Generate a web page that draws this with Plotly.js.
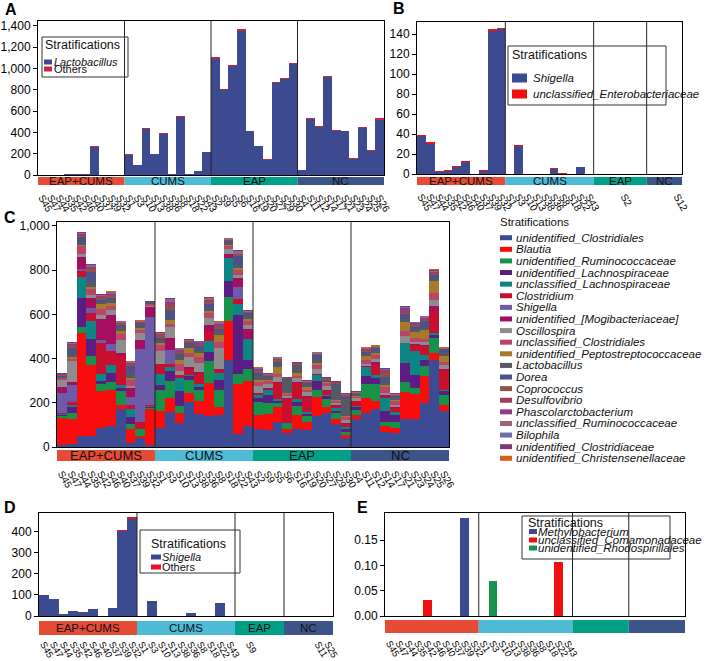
<!DOCTYPE html>
<html><head><meta charset="utf-8">
<script src="https://cdn.plot.ly/plotly-3.0.1.min.js"></script>
<style>html,body{margin:0;padding:0;background:#fff}#chart{width:709px;height:661px}</style>
</head><body><div id="chart"></div>
<script>
// ---------------- DATA ----------------
const groupNames = ['EAP+CUMS','CUMS','EAP','NC'];
const groupColors = ['#E64B35','#4DBBD5','#00A087','#3C5488'];

const eapCumsSamples = ['S45','S47','S44','S35','S42','S46','S40','S37','S39','S32'];
const cumsSamples = ['S1','S3','S10','S13','S38','S36','S8','S18','S22','S43'];
const eapSamples = ['S2','S9','S5','S6','S16','S19','S20','S27','S29','S30'];
const ncSamples = ['S4','S11','S12','S14','S17','S21','S23','S24','S25','S26'];

// Panel A
const samplesA = [...eapCumsSamples, ...cumsSamples, ...eapSamples, ...ncSamples];
const countsA = [10,10,10,10];
const labelsA = samplesA;
const seriesNamesA = ['Lactobacillus','Others'];
const lactobacillusA = [1,1,2,8,8,6,262,3,3,3, 188,91,436,197,387,10,542,6,35,216, 1088,795,1021,1354,410,270,144,867,901,1038, 44,521,451,920,414,411,153,442,229,519];
const othersA = [1,1,1,3,3,3,8,1,1,1, 6,3,8,3,7,2,8,2,2,3, 15,8,10,18,6,5,3,8,8,12, 3,10,5,8,5,5,3,8,5,12];

// Panel B
const samplesB = [...eapCumsSamples, ...cumsSamples, 'S5','S6','S16','S2','S19','S20', 'S7','S14','S17','S12'];
const countsB = [10,10,6,4];
const labelsB = [...eapCumsSamples, ...cumsSamples, 'S2', 'S12'];
const seriesNamesB = ['Shigella','unclassified_Enterobacteriaceae'];
const shigellaB = [38,30.5,2.5,3.5,7.5,12.5,0.3,3.5,143.3,145, 0,28.5,0.2,0.2,0.2,5.5,0.5,0,6.8,0, 0.2,0.2,0.3,0.5,0.3,0.2, 0.2,0.2,0.3,0.5];
const enterobacteriaceaeB = [0.8,1.5,0.2,0.2,0.8,0.3,0,0.2,2,1.3, 0,0.2,0,0,0,0.3,0.2,0,0.3,0, 0,0,0,0,0,0, 0,0,0,0];

// Panel C
const samplesC = samplesA;
const countsC = [10,10,10,10];
const taxaC = ['unidentified_Clostridiales','Blautia','unidentified_Ruminococcaceae','unidentified_Lachnospiraceae','unclassified_Lachnospiraceae','Clostridium','Shigella','unidentified_[Mogibacteriaceae]','Oscillospira','unclassified_Clostridiales','unidentified_Peptostreptococcaceae','Lactobacillus','Dorea','Coprococcus','Desulfovibrio','Phascolarctobacterium','unclassified_Ruminococcaceae','Bilophila','unidentified_Clostridiaceae','unidentified_Christensenellaceae'];
const unidClostridiales = [10,15,50,50,85,95,170,20,40,10, 85,160,110,205,150,140,145,395,60,95, 80,75,115,65,80,75,140,155,105,40, 125,155,170,70,65,125,125,200,395,165];
const blautia = [120,110,465,320,170,165,20,60,10,160, 80,60,45,40,60,150,35,175,225,205, 65,75,65,15,65,40,85,25,20,15, 22,65,40,25,22,125,115,120,30,25];
const unidRuminococcaceae = [12,30,30,40,30,35,65,25,30,5, 95,80,30,60,50,100,80,110,45,55, 60,50,20,25,40,25,35,35,30,15, 20,65,75,20,25,45,25,45,70,45];
const unidLachnospiraceae = [5,25,130,80,15,40,10,30,0,5, 20,45,70,15,10,40,45,70,265,40, 15,35,10,0,20,10,40,15,10,10, 15,35,25,50,35,85,60,30,10,20];
const unclLachnospiraceae = [3,10,95,80,30,35,15,35,0,5, 50,15,55,5,15,50,30,105,50,95, 15,25,5,5,10,10,25,5,10,10, 5,40,15,55,10,90,110,20,10,5];
const clostridium = [5,15,25,35,140,65,130,20,35,5, 45,15,15,30,45,45,15,0,25,0, 5,0,75,105,75,65,0,20,10,15, 20,0,45,5,20,0,25,40,100,90];
const shigellaC = [90,75,10,25,15,30,0,35,330,400, 0,65,0,0,0,0,0,0,55,0, 0,0,0,0,0,0,0,0,0,0, 0,0,0,0,0,0,0,0,0,0];
const mogibacteriaceae = [25,15,55,45,95,130,15,40,40,45, 0,55,0,5,10,25,5,20,40,45, 5,5,5,5,5,5,5,5,3,5, 3,5,15,10,5,0,5,5,25,5];
const oscillospira = [35,95,15,15,15,25,60,10,30,5, 60,50,20,45,40,35,95,20,15,15, 30,20,20,10,15,20,25,15,10,10, 10,10,15,10,10,30,10,15,25,15];
const unclClostridiales = [8,10,35,25,30,20,25,30,15,5, 25,10,30,20,25,20,25,15,20,20, 20,15,15,8,10,10,15,15,10,15, 8,20,15,25,15,25,20,15,30,15];
const peptostreptococcaceae = [0,5,5,10,20,10,15,5,10,3, 10,20,20,25,20,10,30,5,10,10, 10,5,30,5,15,10,10,5,3,5, 3,15,10,10,5,40,25,40,55,25];
const lactobacillusC = [5,15,10,20,10,10,15,25,10,3, 10,5,10,10,15,10,15,10,10,10, 15,10,10,60,30,10,20,5,70,75, 5,10,15,10,10,15,10,10,10,15];
const dorea = [5,30,25,47,10,15,10,30,10,3, 15,40,15,10,15,23,15,5,45,15, 15,8,15,5,8,8,15,5,5,10, 5,10,8,25,8,20,15,30,20,18];
const coprococcus = [2,5,5,8,8,8,5,5,3,0, 10,15,10,5,8,8,10,3,5,5, 8,3,8,2,3,4,5,3,3,5, 3,5,3,22,4,5,5,5,5,0];
const desulfovibrio = [2,5,5,8,6,5,5,5,3,0, 5,10,6,3,5,6,8,2,3,2, 5,2,5,0,2,3,3,2,3,4, 2,5,2,5,3,12,5,5,3,0];
const phascolarctobacterium = [3,5,5,6,4,5,3,3,0,0, 3,10,5,2,5,5,5,0,2,0, 4,0,2,0,0,0,0,0,0,3, 0,3,0,5,0,10,4,5,3,0];
const unclRuminococcaceae = [2,3,3,5,4,4,3,3,2,2, 2,8,3,3,3,5,4,3,4,3, 3,2,3,2,2,2,3,2,2,2, 2,3,2,3,2,4,3,3,4,3];
const bilophila = [0,3,2,4,3,3,2,3,2,2, 2,6,2,2,2,3,3,2,10,2, 2,2,2,2,2,2,2,2,2,2, 2,2,2,5,2,3,2,3,3,2];
const unidClostridiaceae = [2,2,3,3,2,3,2,2,2,2, 2,3,2,2,2,2,2,2,2,2, 2,2,2,2,2,2,2,2,2,2, 2,2,2,2,2,2,2,2,2,2];
const christensenellaceae = [1,1,2,2,1,1,1,1,1,1, 1,2,1,1,1,1,1,2,1,1, 1,1,1,1,1,1,1,1,1,1, 1,1,1,1,1,1,1,1,5,1];

// Panel D
const samplesD = [...eapCumsSamples, ...cumsSamples, 'S5','S9','S6','S16','S19', 'S7','S14','S17','S11','S25'];
const countsD = [10,10,5,5];
const labelsD = [...eapCumsSamples, ...cumsSamples, 'S9', 'S11', 'S25'];
const seriesNamesD = ['Shigella','Others'];
const shigellaD = [99,80,9,24,18,34,0.5,37,402,460, 0,70,0.5,0.5,0.5,15.5,0.5,0,62,0, 0.3,0.3,0.3,0.3,0.3, 0.3,0.3,0.3,0.3,0.3];
const othersD = [1.5,1,0.5,1,1,1.5,0,1.5,7,8, 0,1,0,0,0,0.5,0,0,1,0, 0,0,0,0,0, 0,0,0,0,0];

// Panel E
const samplesE = [...eapCumsSamples, ...cumsSamples, 'S2','S5','S6','S9','S16','S19', 'S7','S11','S12','S14','S17','S21'];
const countsE = [10,10,6,6];
const labelsE = [...eapCumsSamples, ...cumsSamples];
const seriesNamesE = ['Methylobacterium','unclassified_Comamonadaceae','unidentified_Rhodospirillales'];
const methylobacteriumE = [0,0,0,0,0,0,0,0,0.193,0, 0,0,0,0,0,0,0,0,0,0, 0,0,0,0,0,0, 0,0,0,0,0,0];
const comamonadaceaeE = [0,0,0,0,0.0316,0,0,0,0,0, 0,0,0,0,0,0,0,0,0.107,0, 0,0,0,0,0,0, 0,0,0,0,0,0];
const rhodospirillalesE = [0,0,0,0,0,0,0,0,0,0, 0,0.0697,0,0,0,0,0,0,0,0, 0,0,0,0,0,0, 0,0,0,0,0,0];

// y tick values per panel
const yTicksA = [0,200,400,600,800,1000,1200,1400];
const yTicksB = [0,20,40,60,80,100,120,140];
const yTicksC = [0,200,400,600,800,1000];
const yTicksD = [0,100,200,300,400];
const yTicksE = [0,0.05,0.10,0.15];

// ---------------- STYLE / LAYOUT ----------------
const W = 709, H = 661;
const FONT = 'Liberation Sans, Arial, Helvetica, sans-serif';
const pxX = p => p / W;
const pxY = p => 1 - p / H;

const colorsA = ['#3C4A90', '#C8283A'];
const colorsB = ['#3C4A90', '#F01010'];
const colorsC = ['#3C4C94','#FA0C0C','#16924A','#5B1D83','#0D8585','#C8102E','#6D5BAA','#A30F5E','#8D8D8D','#B9466A','#A67A2A','#535A66','#4E5088','#8A5545','#A03C5C','#8E3A8E','#A45F75','#6C70A8','#7B3B73','#D2601E'];
const colorsD = ['#3C4A90', '#E8102A'];
const colorsE = ['#3C4A90', '#F01010', '#16924A'];
const valuesC = [unidClostridiales, blautia, unidRuminococcaceae, unidLachnospiraceae, unclLachnospiraceae, clostridium, shigellaC, mogibacteriaceae, oscillospira, unclClostridiales, peptostreptococcaceae, lactobacillusC, dorea, coprococcus, desulfovibrio, phascolarctobacterium, unclRuminococcaceae, bilophila, unidClostridiaceae, christensenellaceae];

const panels = [
  {letter:'A', ax:'', x0:38, x1:384, y0:21, y1:175, ymax:1444, yticks:yTicksA, fmt:',d', strip:[177,185], stripFont:11.5, tickLen:12, tickSize:10,
   samples:samplesA, counts:countsA, labels:labelsA, series:[lactobacillusA, othersA], names:seriesNamesA, colors:colorsA, letterPos:[3,9]},
  {letter:'B', ax:'2', x0:417, x1:682, y0:22, y1:174, ymax:152.3, yticks:yTicksB, fmt:'d', strip:[177,185], stripFont:11.5, tickLen:12, tickSize:10,
   samples:samplesB, counts:countsB, labels:labelsB, series:[shigellaB, enterobacteriaceaeB], names:seriesNamesB, colors:colorsB, letterPos:[391,8]},
  {letter:'C', ax:'3', x0:57, x1:449, y0:222, y1:447, ymax:1018, yticks:yTicksC, fmt:',d', strip:[450,461], stripFont:13, tickLen:16, tickSize:10,
   samples:samplesC, counts:countsC, labels:samplesC, series:valuesC, names:taxaC, colors:colorsC, letterPos:[2,217]},
  {letter:'D', ax:'4', x0:39, x1:333, y0:513, y1:616, ymax:489, yticks:yTicksD, fmt:'d', strip:[621,635], stripFont:11.5, tickLen:18, tickSize:9.5,
   samples:samplesD, counts:countsD, labels:labelsD, series:[shigellaD, othersD], names:seriesNamesD, colors:colorsD, letterPos:[2,507]},
  {letter:'E', ax:'5', x0:385, x1:685, y0:513, y1:616, ymax:0.2033, yticks:yTicksE, fmt:'.2f', strip:[620,633], stripFont:0, tickLen:17, tickSize:9.5,
   samples:samplesE, counts:countsE, labels:labelsE, series:[methylobacteriumE, comamonadaceaeE, rhodospirillalesE], names:seriesNamesE, colors:colorsE, barWidth:0.92, letterPos:[355,507]},
];

const data = [];
const shapes = [];
const annotations = [];
const layout = {
  width: W, height: H, margin:{l:0,r:0,t:0,b:0}, paper_bgcolor:'#fff', plot_bgcolor:'#fff',
  barmode:'stack', bargap:0, showlegend:false, font:{family:FONT, color:'#000'}
};

panels.forEach(p => {
  const xa = 'x' + p.ax, ya = 'y' + p.ax;
  const n = p.samples.length;
  layout['xaxis' + p.ax] = {
    domain:[pxX(p.x0), pxX(p.x1)], anchor:ya, type:'category',
    categoryorder:'array', categoryarray:p.samples, range:[-0.5, n-0.5],
    showline:true, mirror:true, linecolor:'#000', linewidth:1,
    ticks:'outside', ticklen:p.tickLen, tickcolor:'rgba(0,0,0,0)',
    tickmode:'array', tickvals:p.labels, ticktext:p.labels, tickangle:60,
    tickfont:{size:p.tickSize, family:FONT, color:'#000'}, showgrid:false, zeroline:false, fixedrange:true
  };
  layout['yaxis' + p.ax] = {
    domain:[pxY(p.y1), pxY(p.y0)], anchor:xa, range:[0, p.ymax],
    showline:true, mirror:true, linecolor:'#000', linewidth:1,
    ticks:'outside', ticklen:4, tickcolor:'#000', tickmode:'array', tickvals:p.yticks, tickformat:p.fmt,
    tickfont:{size:12, family:FONT, color:'#000'}, showgrid:false, zeroline:false, fixedrange:true
  };
  p.series.forEach((vals, i) => {
    const tr = {type:'bar', x:p.samples, y:vals, xaxis:xa, yaxis:ya, name:p.names[i],
      marker:{color:p.colors[i], line:{width:0}}, hoverinfo:'skip', showlegend:false};
    if (p.barWidth) tr.width = p.barWidth;
    data.push(tr);
  });
  // group strip, dividers, labels
  let start = 0;
  p.counts.forEach((c, g) => {
    shapes.push({type:'rect', xref:xa, yref:'paper', x0:start-0.5, x1:start+c-0.5,
      y0:pxY(p.strip[1]), y1:pxY(p.strip[0]), fillcolor:groupColors[g], line:{width:0}, layer:'above'});
    if (p.stripFont) annotations.push({xref:xa, yref:'paper', x:start+(c-1)/2, y:pxY((p.strip[0]+p.strip[1])/2),
      text:groupNames[g], showarrow:false, xanchor:'center', yanchor:'middle',
      font:{size:p.stripFont, family:FONT, color:'#111'}});
    if (g > 0) shapes.push({type:'line', xref:xa, yref:ya + ' domain', x0:start-0.5, x1:start-0.5, y0:0, y1:1,
      line:{color:'#222', width:1}, layer:'above'});
    start += c;
  });
  annotations.push({xref:'paper', yref:'paper', x:pxX(p.letterPos[0]), y:pxY(p.letterPos[1]), text:'<b>'+p.letter+'</b>',
    showarrow:false, xanchor:'left', yanchor:'middle', font:{size:16, family:FONT, color:'#000'}});
});

// ---------------- custom legends ----------------
function legend(spec) {
  if (spec.box) shapes.push({type:'rect', xref:'paper', yref:'paper', x0:pxX(spec.box[0]), x1:pxX(spec.box[2]),
    y0:pxY(spec.box[3]), y1:pxY(spec.box[1]), line:{color:'#333', width:1}, fillcolor:'rgba(255,255,255,0)', layer:'above'});
  annotations.push({xref:'paper', yref:'paper', x:pxX(spec.titleX), y:pxY(spec.titleY), text:'Stratifications',
    showarrow:false, xanchor:'left', yanchor:'middle', font:{size:spec.titleSize, family:FONT, color:'#111'}});
  spec.names.forEach((nm, i) => {
    const y = spec.ys[i];
    shapes.push({type:'rect', xref:'paper', yref:'paper', x0:pxX(spec.swX[0]), x1:pxX(spec.swX[1]),
      y0:pxY(y + spec.swH/2), y1:pxY(y - spec.swH/2), fillcolor:spec.colors[i], line:{width:0}, layer:'above'});
    const txt = nm === 'Others' ? nm : '<i>' + nm + '</i>';
    annotations.push({xref:'paper', yref:'paper', x:pxX(spec.textX), y:pxY(y), text:txt, showarrow:false,
      xanchor:'left', yanchor:'middle', font:{size:spec.size, family:FONT, color:'#111'}});
  });
}
legend({box:[42,37,128,77], titleX:43, titleY:45, titleSize:12.5, names:seriesNamesA, colors:colorsA,
  ys:[62,69], swX:[44,52], swH:5, textX:52, size:11});
legend({box:[508,46,666,105], titleX:510, titleY:55, titleSize:12.5, names:seriesNamesB, colors:colorsB,
  ys:[78,94], swX:[512,527], swH:9, textX:531, size:11.5});
legend({box:null, titleX:498, titleY:222, titleSize:11.5, names:taxaC, colors:colorsC,
  ys:taxaC.map((_, i) => 237.7 + i * 11.61), swX:[500,512], swH:5, textX:514, size:11.5});
legend({box:[140,530,240,573], titleX:149, titleY:544, titleSize:12.5, names:seriesNamesD, colors:colorsD,
  ys:[557,567], swX:[151,161], swH:5, textX:160, size:11});
legend({box:[522,516,670,559], titleX:526, titleY:523, titleSize:12.5, names:seriesNamesE, colors:colorsE,
  ys:[531.5,540,548], swX:[529,537], swH:5, textX:536, size:11.5});

layout.shapes = shapes;
layout.annotations = annotations;
Plotly.newPlot('chart', data, layout, {staticPlot:true, displayModeBar:false});
</script>
</body></html>
